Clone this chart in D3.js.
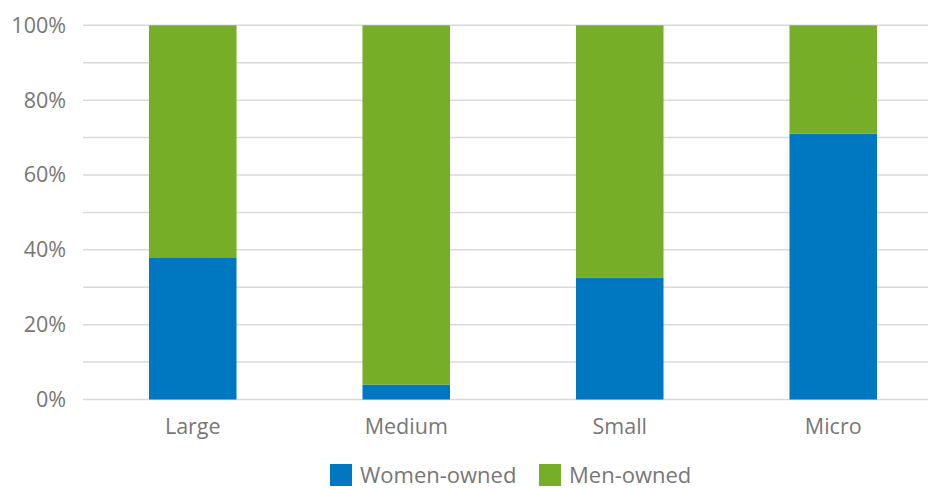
<!DOCTYPE html>
<html>
<head>
<meta charset="utf-8">
<script src="https://cdn.jsdelivr.net/npm/d3@7"></script>
<style>
  body { margin: 0; background: #fff; }
  text { font-family: "Open Sans", sans-serif; fill: #777; }
</style>
</head>
<body>
<svg id="chart"></svg>
<script>
"use strict";

// data
const categories = ["Large", "Medium", "Small", "Micro"];
const womenOwned = [38, 4, 32.5, 71];
const menOwned = [62, 96, 67.5, 29];
const seriesNames = ["Women-owned", "Men-owned"];
const seriesColors = ["#0078c1", "#77ae28"];
const yTicks = [0, 20, 40, 60, 80, 100];
const gridTicks = [0, 10, 20, 30, 40, 50, 60, 70, 80, 90, 100];

const width = 928, height = 489;

let svg = d3.select("#chart")
  .attr("width", width)
  .attr("height", height);

let rows = categories.map((c, i) => ({cat: c, "Women-owned": womenOwned[i], "Men-owned": menOwned[i]}));
let series = d3.stack().keys(seriesNames)(rows);

let x = d3.scaleBand()
  .domain(categories)
  .range([86, 940])
  .paddingInner(0.59)
  .paddingOuter(0.295);

let y = d3.scaleLinear()
  .domain([0, 100])
  .range([399.5, 25.3]);

let color = d3.scaleOrdinal().domain(seriesNames).range(seriesColors);

// gridlines
svg.append("g")
  .selectAll("line")
  .data(gridTicks)
  .join("line")
    .attr("x1", 83)
    .attr("x2", width)
    .attr("y1", d => y(d))
    .attr("y2", d => y(d))
    .attr("stroke", "#d9d9d9")
    .attr("stroke-width", 1.5);

// y axis labels
let yAxis = svg.append("g")
  .attr("transform", "translate(66,0)")
  .call(d3.axisLeft(y).tickValues(yTicks).tickSize(0).tickPadding(0).tickFormat(d => d + "%"));
yAxis.select(".domain").remove();
yAxis.selectAll("text")
  .style("font-size", "21.5px")
  .attr("fill", "#777");

// bars
svg.append("g")
  .selectAll("g")
  .data(series)
  .join("g")
    .attr("fill", d => color(d.key))
  .selectAll("rect")
  .data(d => d)
  .join("rect")
    .attr("x", d => x(d.data.cat))
    .attr("width", x.bandwidth())
    .attr("y", d => y(d[1]))
    .attr("height", d => y(d[0]) - y(d[1]));

// x axis labels
let xAxis = svg.append("g")
  .attr("transform", "translate(0,418)")
  .call(d3.axisBottom(x).tickSize(0).tickPadding(0));
xAxis.select(".domain").remove();
xAxis.selectAll("text")
  .attr("dy", "0.75em")
  .style("font-size", "21.5px")
  .attr("fill", "#777");

// legend
let legendX = [330, 539];
let legend = svg.append("g")
  .selectAll("g")
  .data(seriesNames)
  .join("g")
    .attr("transform", (d, i) => `translate(${legendX[i]},464)`);
legend.append("rect")
  .attr("width", 22)
  .attr("height", 22)
  .attr("fill", d => color(d));
legend.append("text")
  .attr("x", 30)
  .attr("y", 19)
  .style("font-size", "22px")
  .attr("fill", "#777")
  .text(d => d);
</script>
</body>
</html>
